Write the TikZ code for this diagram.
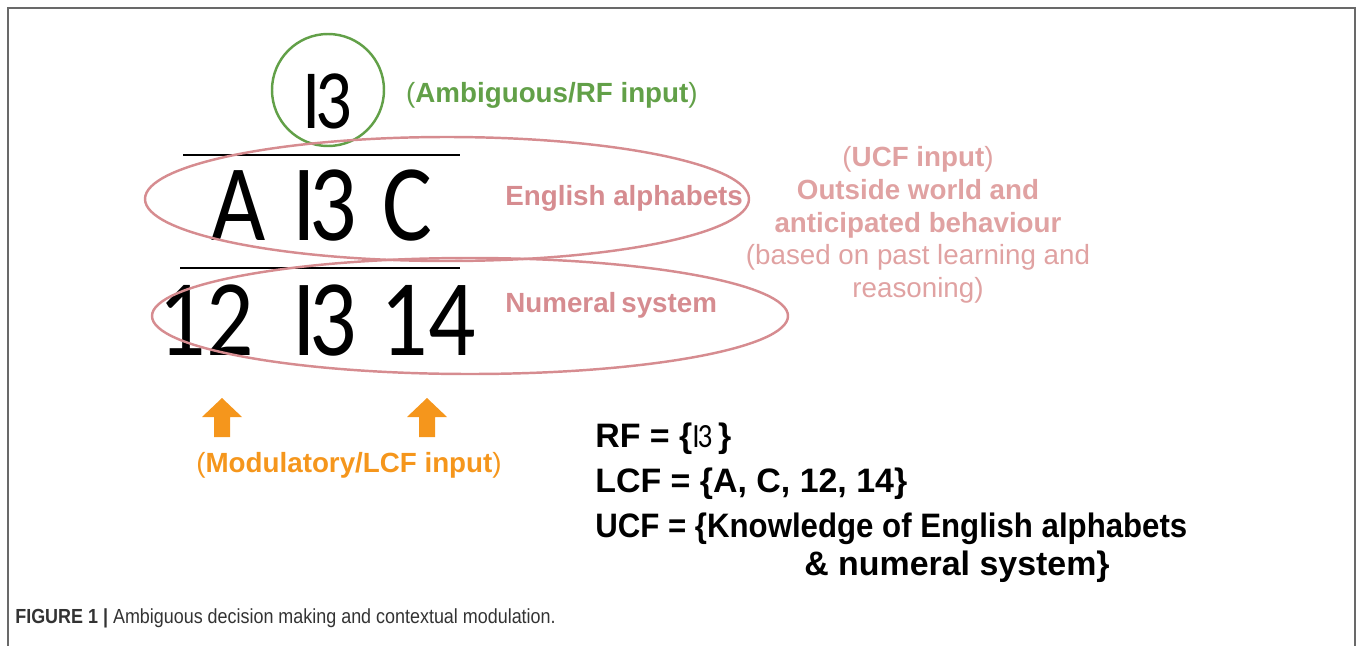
\documentclass[tikz,border=0pt]{standalone}
\usepackage{fontspec}
\setmainfont{Liberation Sans}
\newfontfamily\glyphfont[FakeStretch=0.86]{Carlito}
\newfontfamily\narrowfont[FakeStretch=0.92]{Liberation Sans}
\newfontfamily\capfont[FakeStretch=0.88]{Liberation Sans}
\usetikzlibrary{positioning}
\definecolor{rfgreen}{RGB}{98,160,72}
\definecolor{ucfpink}{RGB}{214,140,144}
\definecolor{ucftext}{RGB}{224,162,162}
\definecolor{lcforange}{RGB}{245,150,28}
\definecolor{framegray}{RGB}{105,105,105}
\newcommand{\amb}{I\kern-0.06em3} % the ambiguous B / 13 character
\tikzset{
  bigglyph/.style={ % characters of the two rows
    anchor=base, inner sep=0pt, font=\glyphfont\fontsize{62}{62}\selectfont
  },
  topglyph/.style={ % the ambiguous input on top
    anchor=base, inner sep=0pt, font=\glyphfont\fontsize{48}{48}\selectfont
  },
  rfring/.style={draw=rfgreen, line width=1.4pt},
  ucfring/.style={draw=ucfpink, line width=1.4pt},
  rowline/.style={draw=black, line width=1.7pt},
  ucflabel/.style={
    text=ucfpink, font=\bfseries\fontsize{15.8}{18}\selectfont, inner sep=0pt
  },
  setline/.style={ % RF / LCF / UCF definitions
    anchor=base west, inner sep=0pt, font=\bfseries\fontsize{19.3}{22}\selectfont
  }
}
\newcommand{\modarrow}[1]{ % orange block arrow pointing up
  \fill[lcforange] (#1) ++(-8,0) -- ++(0,-20) -- ++(-12,0) -- ++(20,-19)
    -- ++(20,19) -- ++(-12,0) -- ++(0,20) -- cycle;
}

\begin{document}
\begin{tikzpicture}[x=0.02cm, y=-0.02cm]
  \useasboundingbox (0,0) rectangle (1357,646);
  % frame
  \draw[framegray, line width=1.2pt] (8,646) -- (8,8) -- (1355,8) -- (1355,646);

  % ambiguous input
  \node[topglyph] (rf) at (327,128) {\amb};
  \draw[rfring] (328,90) circle (56);
  \node[text=rfgreen, font=\bfseries\fontsize{15.8}{18}\selectfont, anchor=west]
    (rf_label) at (400,95) {\mdseries(\bfseries Ambiguous/RF input\mdseries)};

  % rows
  \draw[rowline] (183,155) coordinate (la_w) -- (460,155) coordinate (la_e);
  \node[bigglyph] (A) at (239,240) {A};
  \node[bigglyph] (B) at (325,240) {\amb};
  \node[bigglyph] (C) at (407,240) {C};
  \draw[rowline] (180,268) coordinate (lb_w) -- (460,268) coordinate (lb_e);
  \node[bigglyph] (n12) at (206,355) {12};
  \node[bigglyph] (n13) at (325,355) {\amb};
  \node[bigglyph] (n14) at (428,355) {14};

  % contexts
  \draw[ucfring] (447,199) ellipse [x radius=302, y radius=62];
  \node[ucflabel, anchor=west] (eng_label) at (505,198) {English alphabets};
  \draw[ucfring] (470,316) ellipse [x radius=318, y radius=58];
  \node[ucflabel, anchor=west] (num_label) at (505,305) {Numeral\kern-0.1em\ system};
  \node[ucflabel, text=ucftext, align=center, font=\fontsize{15.8}{18.6}\selectfont]
    (ucf_text) at (918,225) {\mdseries(\bfseries UCF input\mdseries)\\
    \bfseries Outside world and\\ \bfseries anticipated behaviour\\
    (based on past learning and\\ reasoning)};

  % modulatory input
  \coordinate (mod_a) at (222,437);
  \coordinate (mod_b) at (427,437);
  \modarrow{mod_a}
  \modarrow{mod_b}
  \node[text=lcforange, font=\bfseries\fontsize{15.8}{18}\selectfont]
    (lcf_label) at (349,465) {\mdseries(\bfseries Modulatory/LCF input\mdseries)};

  % definitions
  \node[setline] (rf_set) at (595,447) {RF = \{{\glyphfont\mdseries\amb}\,\}};
  \node[setline] (lcf_set) at (595,492) {LCF = \{A, C, 12, 14\}};
  \node[setline, font=\narrowfont\bfseries\fontsize{19.3}{22}\selectfont]
    (ucf_set) at (595,537) {UCF = \{Knowledge of English alphabets};
  \node[setline, anchor=base] (ucf_set2) at (957,575) {\& numeral system\}};

  % caption
  \node[anchor=base west, inner sep=0pt, text=black!80,
    font=\capfont\fontsize{11.6}{13}\selectfont]
    (caption) at (15,623) {\textbf{FIGURE 1 |} Ambiguous decision making and contextual modulation.};
\end{tikzpicture}
\end{document}
